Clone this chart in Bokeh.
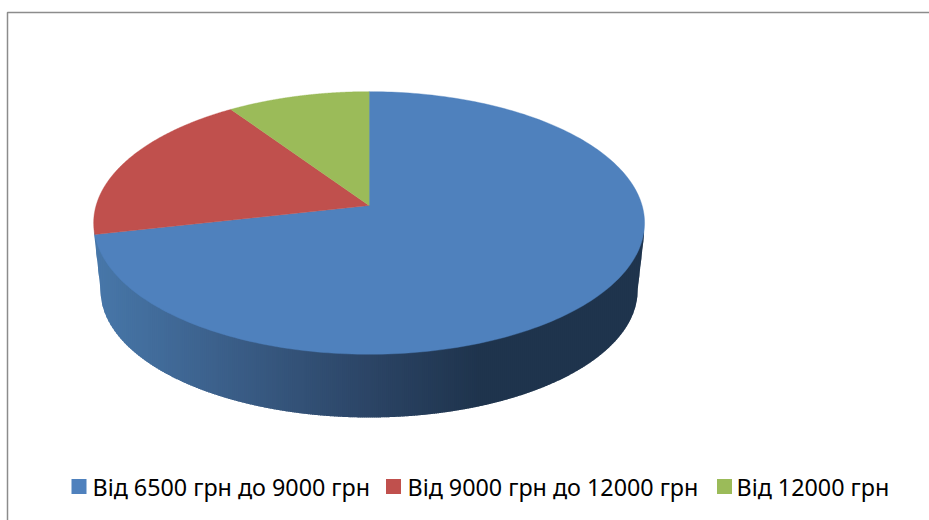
import numpy as np
from bokeh.core.properties import value
from bokeh.embed import file_html
from bokeh.models import ColumnDataSource, Range1d
from bokeh.plotting import figure
from bokeh.resources import INLINE

categories = ["Від 6500 грн до 9000 грн", "Від 9000 грн до 12000 грн", "Від 12000 грн"]
shares = [71.5, 19.0, 9.5]
colors = ["#4f81bd", "#c0504d", "#9bbb59"]
legend_key_x = [78.5, 393, 724]
legend_text_x = [92, 407, 736]

WIDTH, HEIGHT = 929, 520

# Disc geometry in page pixels: the hub sits above the ellipse centre because of perspective.
HUB_X, HUB_Y = 368.6, 205.0
TOP_CY, TOP_RX, TOP_RY = 222.5, 275.5, 131.5
BASE_CY, BASE_RX, BASE_RY = 290.0, 268.5, 127.0
PERSPECTIVE = 0.133
FAR_SCALE = 129.0
SIDE_SCALE = 273.0

# Side wall shading, dark towards the right.
SHADE_X = [94, 200, 369, 480, 644]
SHADE_R = [72, 62, 44, 31, 31]
SHADE_G = [120, 100, 69, 52, 52]
SHADE_B = [170, 144, 102, 77, 77]


def rim_point(turn):
    """Project a clockwise turn from twelve o'clock (0..1) on to the top face."""
    a = 2 * np.pi * turn
    s, c = np.cos(a), np.sin(a)
    w = 1 + PERSPECTIVE * s
    return HUB_X + SIDE_SCALE * c / w, HUB_Y - FAR_SCALE * s / w


def arc_y(x, cy, rx, ry):
    return cy + ry * np.sqrt(np.clip(1 - ((x - HUB_X) / rx) ** 2, 0, 1))


p = figure(
    width=WIDTH, height=HEIGHT, output_backend="svg", toolbar_location=None,
    x_range=Range1d(0, WIDTH), y_range=Range1d(HEIGHT, 0),
    min_border=0, background_fill_color="white", border_fill_color="white",
    outline_line_color=None,
)
p.axis.visible = False
p.grid.visible = False

# Chart frame: only its left and top edges fall on the page.
p.multi_line(xs=[[7, 7, WIDTH]], ys=[[HEIGHT, 12, 12]], line_color="#8c8c8c", line_width=1.5)

# Side wall as vertical strips carrying the horizontal shading; each strip runs
# under the next one so no seams show between them.
left_x, right_x = 93.8, 643.5
STEP = 2.0
OVERLAP = 3.0
edge_x = np.arange(left_x, right_x, STEP)
strip_xs, strip_ys, strip_colors = [], [], []


def lower_edge(x):
    base_left, base_right = HUB_X - BASE_RX, HUB_X + BASE_RX
    if x < base_left:
        return 235 + (x - left_x) / (base_left - left_x) * (BASE_CY - 235)
    if x > base_right:
        return 235 + (right_x - x) / (right_x - base_right) * (BASE_CY - 235)
    return arc_y(x, BASE_CY, BASE_RX, BASE_RY)


for x0 in edge_x:
    x1 = min(x0 + OVERLAP, right_x)
    cols = np.arange(x0, x1 + 0.5, 0.5)
    cols[-1] = x1
    top = [arc_y(x, TOP_CY, TOP_RX, TOP_RY) - 3 for x in cols]
    bottom = [lower_edge(x) for x in cols[::-1]]
    strip_xs.append(list(cols) + list(cols[::-1]))
    strip_ys.append(top + bottom)
    mid = x0 + STEP / 2
    r = int(np.interp(mid, SHADE_X, SHADE_R))
    g = int(np.interp(mid, SHADE_X, SHADE_G))
    b = int(np.interp(mid, SHADE_X, SHADE_B))
    strip_colors.append(f"#{r:02x}{g:02x}{b:02x}")

p.patches(
    "x", "y", source=ColumnDataSource(dict(x=strip_xs, y=strip_ys, c=strip_colors)),
    fill_color="c", line_color=None,
)

# Top face: one wedge per category, going clockwise from twelve o'clock.
edges = np.concatenate([[0], np.cumsum(shares)]) / sum(shares)
for start, stop, color in zip(edges[:-1], edges[1:], colors):
    px, py = rim_point(np.linspace(start, stop, 240))
    p.patch(
        np.concatenate([[HUB_X], px]), np.concatenate([[HUB_Y], py]),
        fill_color=color, line_color=color, line_width=0.4,
    )

# Legend along the bottom edge.
p.rect(x=legend_key_x, y=[486] * 3, width=15, height=15, fill_color=colors, line_color=None)
p.text(
    x=legend_text_x, y=[486] * 3, text=categories,
    text_font=value("Noto Sans"), text_font_size="23.3px",
    text_baseline="middle", text_align="left", text_color="#000000",
)

open("out.html", "w").write(file_html(p, INLINE))
